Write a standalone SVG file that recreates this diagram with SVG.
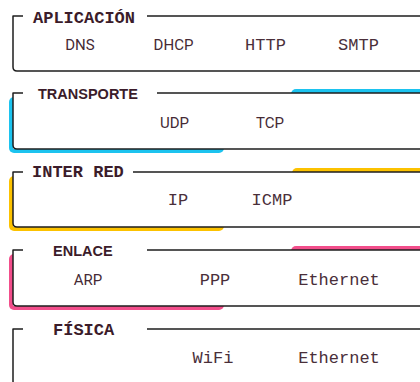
<svg xmlns="http://www.w3.org/2000/svg" width="420" height="382" viewBox="0 0 420 382">
  <style>
    .frame { fill: none; stroke: #1e1e1e; stroke-width: 1.5; stroke-linejoin: round; }
    .title-mono { font-family: "Liberation Mono", monospace; font-weight: bold; font-size: 17px; fill: #3b1c2a; }
    .title-sans { font-family: "Liberation Sans", Arial, sans-serif; font-weight: bold; font-size: 14.5px; fill: #3b1c2a; }
    .mono { font-family: "Liberation Mono", monospace; font-size: 17px; fill: #4a2f3a; text-anchor: middle; }
    .sans { font-family: Roboto, "Liberation Sans", sans-serif; font-size: 15px; fill: #452a35; text-anchor: middle; }
    .cyan { fill: #1cc3ef; }
    .yellow { fill: #fcc200; }
    .pink { fill: #f24e8b; }
  </style>
  <rect width="420" height="382" fill="#ffffff"/>

  <!-- Application layer -->
  <g id="aplicacion">
    <path class="frame" d="M23 16 H13 V67 Q13 71 17 71 H425 M147 16 H425"/>
    <text class="title-mono" x="33" y="23">APLICACIÓN</text>
    <text class="sans" x="80" y="50">DNS</text>
    <text class="sans" x="173.5" y="50">DHCP</text>
    <text class="mono" x="265.5" y="50">HTTP</text>
    <text class="mono" x="358.5" y="50">SMTP</text>
  </g>

  <!-- Transport layer -->
  <g id="transporte">
    <rect class="cyan" x="9" y="97" width="215" height="56" rx="5"/>
    <rect class="cyan" x="291" y="89" width="160" height="20" rx="5"/>
    <rect x="13" y="93" width="420" height="56" fill="#ffffff"/>
    <path class="frame" d="M23 93 H13 V145 Q13 149 17 149 H425 M157 93 H425"/>
    <text class="title-sans" x="38" y="98.5">TRANSPORTE</text>
    <text class="sans" x="174.5" y="128">UDP</text>
    <text class="sans" x="270" y="128">TCP</text>
  </g>

  <!-- Internet layer -->
  <g id="inter-red">
    <rect class="yellow" x="9" y="176" width="215" height="55" rx="5"/>
    <rect class="yellow" x="292" y="168" width="160" height="20" rx="5"/>
    <rect x="13" y="172" width="420" height="55" fill="#ffffff"/>
    <path class="frame" d="M23 172 H13 V223 Q13 227 17 227 H425 M133 172 H425"/>
    <text class="title-mono" x="32" y="177">INTER RED</text>
    <text class="mono" x="178" y="205">IP</text>
    <text class="mono" x="272" y="205">ICMP</text>
  </g>

  <!-- Link layer -->
  <g id="enlace">
    <rect class="pink" x="9" y="254" width="215" height="56" rx="5"/>
    <rect class="pink" x="291" y="246" width="160" height="20" rx="5"/>
    <rect x="13" y="250" width="420" height="56" fill="#ffffff"/>
    <path class="frame" d="M23 250 H13 V302 Q13 306 17 306 H425 M147 250 H425"/>
    <text class="title-sans" x="53" y="256">ENLACE</text>
    <text class="sans" x="88" y="285">ARP</text>
    <text class="mono" x="215" y="285">PPP</text>
    <text class="mono" x="339" y="285">Ethernet</text>
  </g>

  <!-- Physical layer -->
  <g id="fisica">
    <path class="frame" d="M23 329 H13 V381 Q13 385 17 385 H425 M147 329 H425"/>
    <text class="title-mono" x="53" y="335">FÍSICA</text>
    <text class="mono" x="213" y="363">WiFi</text>
    <text class="mono" x="339" y="363">Ethernet</text>
  </g>
</svg>
